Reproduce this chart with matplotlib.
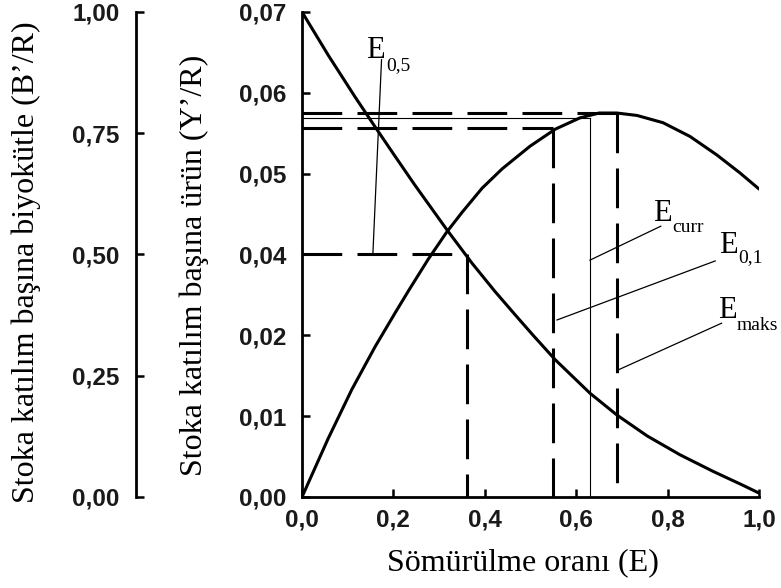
#!/usr/bin/env python3
"""Yield-per-recruit and biomass-per-recruit against exploitation rate."""

import matplotlib

matplotlib.use("Agg")
import matplotlib.pyplot as plt

# yield per recruit (Y'/R), in axis position units (labels skip 0,03)
yield_e = [0.0, 0.057, 0.109, 0.160, 0.204, 0.234, 0.276, 0.317, 0.350, 0.394,
           0.438, 0.499, 0.554, 0.608, 0.650, 0.689, 0.733, 0.790, 0.849, 0.908,
           0.958, 1.0]
yield_y = [0.0, 0.0072, 0.0133, 0.0186, 0.0228, 0.0256, 0.0294, 0.0328, 0.0352,
           0.0382, 0.0406, 0.0434, 0.0455, 0.0469, 0.0475, 0.0475, 0.0472, 0.0463,
           0.0446, 0.0423, 0.0401, 0.0381]

# biomass per recruit (B'/R)
bio_e = [0.0, 0.058, 0.116, 0.160, 0.204, 0.247, 0.317, 0.372, 0.422, 0.466,
         0.506, 0.554, 0.630, 0.689, 0.755, 0.827, 0.899, 0.965, 1.0]
bio_b = [1.0, 0.910, 0.825, 0.763, 0.702, 0.643, 0.551, 0.482, 0.424, 0.376,
         0.333, 0.283, 0.214, 0.169, 0.126, 0.087, 0.053, 0.024, 0.008]

# reference points
e_05, e_01, e_curr, e_maks = 0.36, 0.55, 0.63, 0.69
y_05, y_01, y_curr, y_maks = 0.030, 0.0457, 0.0469, 0.0475

x_ticks = [0.0, 0.2, 0.4, 0.6, 0.8, 1.0]
x_labels = ["0,0", "0,2", "0,4", "0,6", "0,8", "1,0"]
y_ticks = [0.0, 0.01, 0.02, 0.03, 0.04, 0.05, 0.06]
y_labels = ["0,00", "0,01", "0,02", "0,04", "0,05", "0,06", "0,07"]
b_ticks = [0.0, 0.25, 0.5, 0.75, 1.0]
b_labels = ["0,00", "0,25", "0,50", "0,75", "1,00"]

SERIF = "Liberation Serif"
SANS = "Liberation Sans"
LW = 2.2
DASH = (0, (13, 5))

fig = plt.figure(figsize=(7.81, 5.88), dpi=100)
ax = fig.add_axes([0.3867, 0.1548, 0.5852, 0.8248])
ax.set_xlim(0, 1)
ax.set_ylim(0, 0.06)

ax_b = ax.twinx()
ax_b.set_ylim(0, 1)

for a in (ax, ax_b):
    for side in ("top", "right"):
        a.spines[side].set_visible(False)
    a.patch.set_visible(False)
ax_b.spines["bottom"].set_visible(False)
ax_b.spines["left"].set_position(("axes", -0.363))
ax_b.yaxis.set_ticks_position("left")
ax_b.yaxis.set_label_position("left")

for sp in ("left", "bottom"):
    ax.spines[sp].set_linewidth(2.0)
ax_b.spines["left"].set_linewidth(2.0)

ax.set_xticks(x_ticks)
ax.set_xticklabels(x_labels)
ax.set_yticks(y_ticks)
ax.set_yticklabels(y_labels)
ax_b.set_yticks(b_ticks)
ax_b.set_yticklabels(b_labels)

for lab in ax.get_xticklabels() + ax.get_yticklabels() + ax_b.get_yticklabels():
    lab.set_fontfamily(SANS)
    lab.set_fontweight("bold")
    lab.set_fontsize(17.5)
    lab.set_color("#1a1a1a")
ax.tick_params(axis="both", direction="in", length=6, width=1.8)
ax.tick_params(axis="y", pad=11)
ax.tick_params(axis="x", pad=8)
ax_b.tick_params(axis="y", direction="in", length=6, width=1.8, pad=12)

# curves
ax.plot(yield_e, yield_y, color="black", lw=LW, solid_capstyle="round",
        solid_joinstyle="round")
ax_b.plot(bio_e, bio_b, color="black", lw=LW, solid_capstyle="round",
          solid_joinstyle="round")

# horizontal reference lines
ax.plot([0, e_maks], [y_maks, y_maks], color="black", lw=LW, ls=DASH)
ax.plot([0, e_curr], [y_curr, y_curr], color="black", lw=0.8)
ax.plot([0, e_01], [y_01, y_01], color="black", lw=LW, ls=DASH)
ax.plot([0, e_05], [y_05, y_05], color="black", lw=LW, ls=DASH)

# vertical reference lines
ax.plot([e_05, e_05], [y_05, 0], color="black", lw=LW, ls=DASH)
ax.plot([e_01, e_01], [y_01, 0], color="black", lw=LW, ls=DASH)
ax.plot([e_curr, e_curr], [y_curr, 0], color="black", lw=0.8)
ax.plot([e_maks, e_maks], [y_maks, 0], color="black", lw=LW, ls=DASH)

# labels with leader lines: (E x, E y, sub x, sub y, leader start, leader end, subscript)
labels = [
    (0.140, 0.0543, 0.184, 0.0528, (0.174, 0.0541), (0.155, y_05), "0,5"),
    (0.767, 0.0341, 0.809, 0.0328, (0.785, 0.0335), (e_curr, 0.0293), "curr"),
    (0.912, 0.0302, 0.954, 0.0290, (0.904, 0.0292), (0.558, 0.0219), "0,1"),
    (0.910, 0.0222, 0.952, 0.0207, (0.918, 0.0215), (0.691, 0.0157), "maks"),
]
for ex, ey, sx, sy, p0, p1, sub in labels:
    ax.text(ex, ey, "E", family=SERIF, size=22, ha="left", va="baseline")
    ax.text(sx, sy, sub, family=SERIF, size=14, ha="left", va="baseline")
    ax.plot([p0[0], p1[0]], [p0[1], p1[1]], color="black", lw=0.9)

fig.text(0.67, 1 - 563 / 588, "Sömürülme oranı (E)", family=SERIF, size=23,
         ha="center", va="center")
fig.text(26 / 781, 1 - 262 / 588, "Stoka katılım başına biyokütle (B’/R)",
         family=SERIF, size=23, rotation=90, ha="center", va="center")
fig.text(194 / 781, 1 - 265 / 588, "Stoka katılım başına ürün (Y’/R)",
         family=SERIF, size=23, rotation=90, ha="center", va="center")

fig.savefig("out.png", dpi=100)
